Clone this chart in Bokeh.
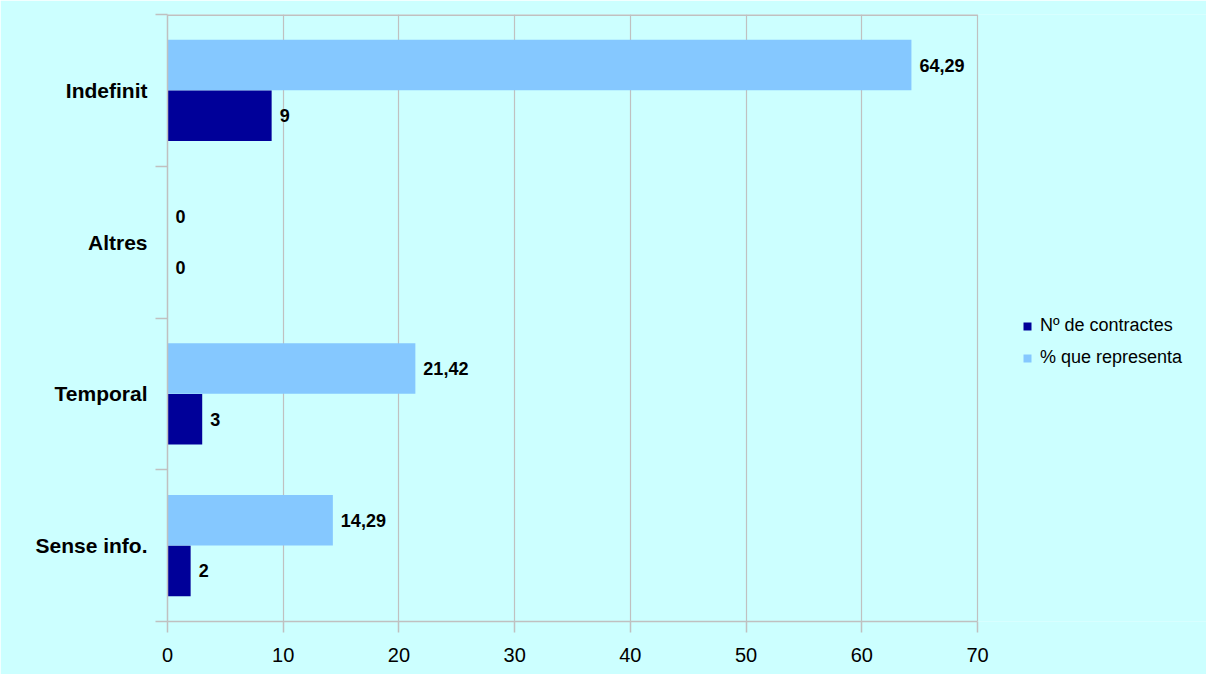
from bokeh.plotting import figure
from bokeh.models import (ColumnDataSource, Range1d, FixedTicker, Legend, LegendItem)
from bokeh.core.properties import value
from bokeh.embed import file_html
from bokeh.resources import INLINE

# Data (bottom to top)
categories = ["Sense info.", "Temporal", "Altres", "Indefinit"]
n_contractes = [2, 3, 0, 9]
pct_representa = [14.29, 21.42, 0, 64.29]
n_labels = ["2", "3", "0", "9"]
pct_labels = ["14,29", "21,42", "0", "64,29"]
x_ticks = [0, 10, 20, 30, 40, 50, 60, 70]
X_MAX = 70

BG = "#CCFFFF"
GRID = "#C0C0C0"
DARK = "#000099"
LIGHT = "#85C8FF"
FONT = "Liberation Sans"

W, H = 1206, 674
LEFT, TOP, BOTTOM = 167, 14, 53
PLOT_W = 810  # pixel width of the 0..70 area
frame_w = W - LEFT
x_end = X_MAX * frame_w / PLOT_W

idx = list(range(len(categories)))
off = 0.1667
src_n = ColumnDataSource(dict(y=[i + 0.5 - off for i in idx], v=n_contractes, t=n_labels))
src_p = ColumnDataSource(dict(y=[i + 0.5 + off for i in idx], v=pct_representa, t=pct_labels))

p = figure(width=W, height=H, output_backend="svg", toolbar_location=None,
           x_range=Range1d(0, x_end), y_range=Range1d(0, len(categories)),
           min_border_left=LEFT, min_border_right=0, min_border_top=TOP, min_border_bottom=BOTTOM)
p.background_fill_color = BG
p.border_fill_color = BG
p.outline_line_color = None

# grid
p.ygrid.grid_line_color = None
p.xgrid.grid_line_color = GRID
p.xgrid.grid_line_width = 1.2
p.xgrid.ticker = FixedTicker(ticks=x_ticks)

# top border of the plot area
p.segment(x0=[0], x1=[X_MAX], y0=[len(categories)], y1=[len(categories)],
          line_color=GRID, line_width=3)

r_p = p.hbar(y="y", right="v", left=0, height=0.333, source=src_p,
             fill_color=LIGHT, line_color=None)
r_n = p.hbar(y="y", right="v", left=0, height=0.333, source=src_n,
             fill_color=DARK, line_color=None)

for src in (src_p, src_n):
    p.text(x="v", y="y", text="t", source=src, x_offset=8,
           text_align="left", text_baseline="middle",
           text_font=value(FONT), text_font_size="18px", text_font_style="bold",
           text_color="black")

# x axis
xa = p.xaxis[0]
xa.ticker = FixedTicker(ticks=x_ticks)
xa.bounds = (0, X_MAX)
xa.axis_line_color = GRID
xa.axis_line_width = 1.5
xa.major_tick_line_color = GRID
xa.major_tick_line_width = 1.5
xa.major_tick_out = 11
xa.major_tick_in = 0
xa.minor_tick_line_color = None
xa.major_label_text_font = FONT
xa.major_label_text_font_size = "20px"
xa.major_label_text_color = "black"
xa.major_label_standoff = 15

# y axis
ya = p.yaxis[0]
ya.ticker = FixedTicker(ticks=[i + 0.5 for i in idx], minor_ticks=list(range(len(categories) + 1)))
ya.major_label_overrides = {i + 0.5: c for i, c in zip(idx, categories)}
ya.axis_line_color = GRID
ya.axis_line_width = 1.5
ya.major_tick_line_color = None
ya.major_tick_out = 0
ya.major_tick_in = 0
ya.minor_tick_line_color = GRID
ya.minor_tick_line_width = 1.5
ya.minor_tick_out = 12
ya.minor_tick_in = 0
ya.major_label_text_font = FONT
ya.major_label_text_font_size = "21px"
ya.major_label_text_font_style = "bold"
ya.major_label_text_color = "black"
ya.major_label_standoff = 8

legend = Legend(items=[LegendItem(label="Nº de contractes", renderers=[r_n]),
                       LegendItem(label="% que representa", renderers=[r_p])],
                location=(855, 253))
legend.background_fill_alpha = 0
legend.border_line_color = None
legend.padding = 0
legend.margin = 0
legend.spacing = 11
legend.glyph_width = 10
legend.glyph_height = 10
legend.label_height = 20
legend.label_standoff = 8
legend.label_text_font = FONT
legend.label_text_font_size = "18px"
legend.label_text_color = "black"
p.add_layout(legend, "center")

open("out.html", "w").write(file_html(p, INLINE))
